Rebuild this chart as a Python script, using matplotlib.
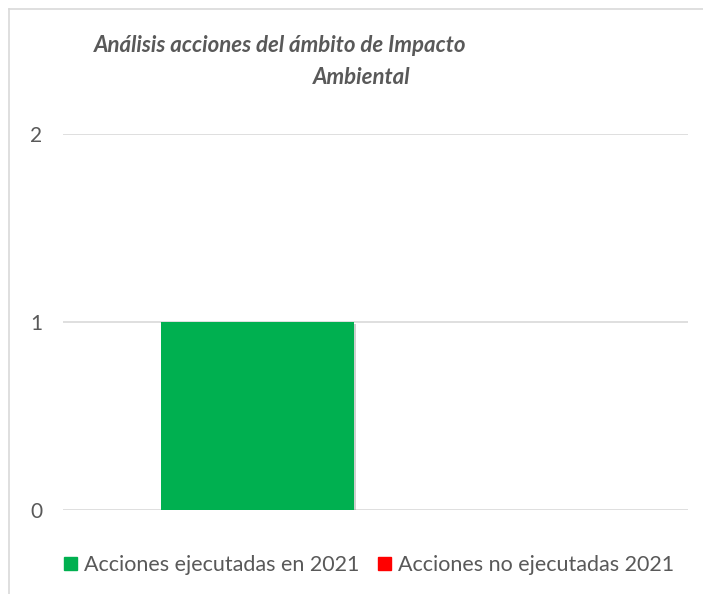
import matplotlib
matplotlib.use("Agg")
import matplotlib.pyplot as plt
import matplotlib.patheffects as pe
from matplotlib.lines import Line2D

# Data
series = ["Acciones ejecutadas en 2021", "Acciones no ejecutadas 2021"]
values = [1, 0]
colors = ["#00B050", "#FF0000"]
yticks = [0, 1, 2]
title_lines = ["Análisis acciones del ámbito de Impacto", "Ambiental"]

W, H = 703, 594
fig = plt.figure(figsize=(W / 100, H / 100), dpi=100)
plt.rcParams['font.family'] = ['Lato', 'DejaVu Sans']
TXT = "#595959"


def px(x0, y0, x1, y1):
    # pixel box (top-left origin) -> figure fraction rect
    return [x0 / W, 1 - y1 / H, (x1 - x0) / W, (y1 - y0) / H]


ax = fig.add_axes(px(63, 134, 688, 510))

bar_w = 0.309
offsets = [-0.189, -0.189 + bar_w]
bars = ax.bar(offsets, values, width=bar_w, color=colors, zorder=3)
bars[0].set_path_effects([pe.SimplePatchShadow(offset=(1.5, -1.5), shadow_rgbFace="#777777", alpha=0.35),
                          pe.Normal()])

ax.set_xlim(-0.5, 0.5)
ax.set_ylim(0, 2)
ax.set_yticks(yticks)
ax.set_yticklabels([str(t) for t in yticks], fontsize=15, color=TXT)
ax.tick_params(axis='y', length=0, pad=15)
ax.set_xticks([])
for s in ax.spines.values():
    s.set_visible(False)
ax.grid(axis='y', color="#D9D9D9", linewidth=1.2, zorder=0)
ax.set_axisbelow(True)

# title, wrapped as in the original
fig.text(280 / W, 1 - 45 / H, title_lines[0], ha='center', va='center', fontsize=16,
         fontstyle='italic', fontweight='bold', color=TXT)
fig.text(362 / W, 1 - 78 / H, title_lines[1], ha='center', va='center', fontsize=16,
         fontstyle='italic', fontweight='bold', color=TXT)

handles = [plt.Rectangle((0, 0), 1, 1, color=c) for c in colors]
fig.legend(handles, series, loc='center', bbox_to_anchor=(369 / W, 1 - 565 / H), ncol=2,
           frameon=False, fontsize=15.5, handlelength=0.6, handleheight=0.6,
           handletextpad=0.33, columnspacing=0.85, labelcolor=TXT,
           borderpad=0, borderaxespad=0)

# chart border (top and left visible)
fig.add_artist(Line2D([9 / W, 1], [1 - 9 / H, 1 - 9 / H], color="#D9D9D9", lw=1.2))
fig.add_artist(Line2D([9 / W, 9 / W], [0, 1 - 9 / H], color="#D9D9D9", lw=1.2))

fig.savefig("out.png", dpi=100)
